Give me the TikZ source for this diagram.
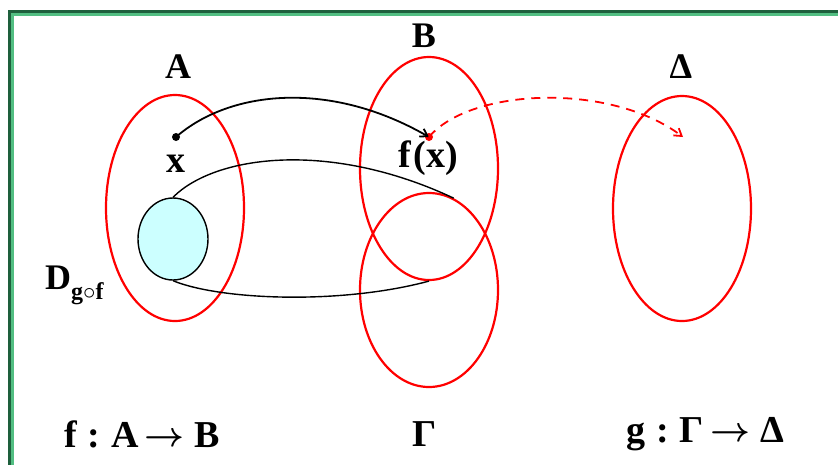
\documentclass[tikz,border=0pt]{standalone}
\usepackage{amsmath}
\usepackage{graphicx}
\usepackage{fontspec}
\setmainfont{Liberation Serif}
\usetikzlibrary{arrows.meta, shapes.geometric, positioning}
\definecolor{framedark}{RGB}{30,95,60}
\definecolor{framelight}{RGB}{82,190,130}
\definecolor{setred}{RGB}{255,0,0}
\definecolor{domcyan}{RGB}{204,255,255}
\newcommand{\maparrow}{\kern6pt\raisebox{1pt}{\resizebox{40pt}{!}{$\boldsymbol{\rightarrow}$}}\kern10pt}
\newcommand{\mapcolon}{\kern11pt:\kern11pt}

\begin{document}
\begin{tikzpicture}[
    x=1pt, y=-1pt,
    setshape/.style={
      ellipse, draw=setred, line width=2.2pt,
      minimum width=138pt, minimum height=#1,
      inner sep=0pt
    },
    domshape/.style={
      ellipse, draw=black, line width=1.4pt, fill=domcyan,
      minimum width=70pt, minimum height=82pt, inner sep=0pt
    },
    setlbl/.style={
      font=\bfseries\fontsize{36}{40}\selectfont, inner sep=0pt
    },
    maplbl/.style={
      font=\bfseries\fontsize{38}{42}\selectfont, inner sep=0pt
    },
    maparr/.style={
      -{Straight Barb[length=7pt,width=9pt]}, line width=1.8pt, draw=black
    },
    comparr/.style={
      -{Straight Barb[length=7pt,width=9pt]}, line width=1.8pt,
      draw=setred, dash pattern=on 9pt off 7pt
    },
    imgline/.style={line width=1.4pt, draw=black}
  ]
  \useasboundingbox (0,0) rectangle (838,464);

  % ---- Frame ----
  \draw[framedark, line width=3pt]  (9.5,470) -- (9.5,11.5) -- (845,11.5);
  \draw[framelight, line width=3pt] (12.5,470) -- (12.5,14.5) -- (845,14.5);

  % ---- Sets ----
  \node[setshape=226pt] (setA) at (175,208)   {};
  \node[setshape=223pt] (setB) at (429,168.5) {};
  \node[setshape=194pt] (setG) at (429,290)   {};
  \node[setshape=225pt] (setD) at (682,208.5) {};
  \node[domshape]       (dom)  at (173,239)   {};

  % ---- Points ----
  \fill[black]  (176,137) circle (4pt) coordinate (ptx);
  \fill[setred] (429,137) circle (4pt) coordinate (ptfx);
  \coordinate (ptend) at (683,137);

  % ---- Set labels ----
  \node[setlbl] (lblA) at (178,67) {A};
  \node[setlbl] (lblB) at (424,36) {B};
  \node[setlbl] (lblD) at (681,67) {Δ};
  \node[maplbl] (lblx)  at (176,164) {x};
  \node[maplbl] (lblfx) at (428,158) {f\kern3pt(x)};
  \node[font=\bfseries\fontsize{36}{40}\selectfont, inner sep=0pt, anchor=west] (lbldom) at (45,285)
    {D\raisebox{-10pt}{\fontsize{24}{26}\selectfont g$\circ$f}};

  % ---- Maps ----
  \draw[maparr]  (ptx) .. controls (230,90) and (330,80) .. (ptfx);
  \draw[comparr] (ptfx) .. controls (470,88) and (610,82) .. (ptend);
  \draw[imgline] (dom.north) .. controls (215,155) and (330,140) .. (setG.75);
  \draw[imgline] (dom.south) .. controls (220,300) and (340,305) .. (setB.south);

  % ---- Bottom labels ----
  \node[maplbl, anchor=west] (lblf) at (64,434) {f\mapcolon A\maparrow B};
  \node[maplbl] (lblG) at (425,434) {Γ};
  \node[maplbl, anchor=west] (lblg) at (626,434) {g\mapcolon Γ\maparrow Δ};

\end{tikzpicture}
\end{document}
